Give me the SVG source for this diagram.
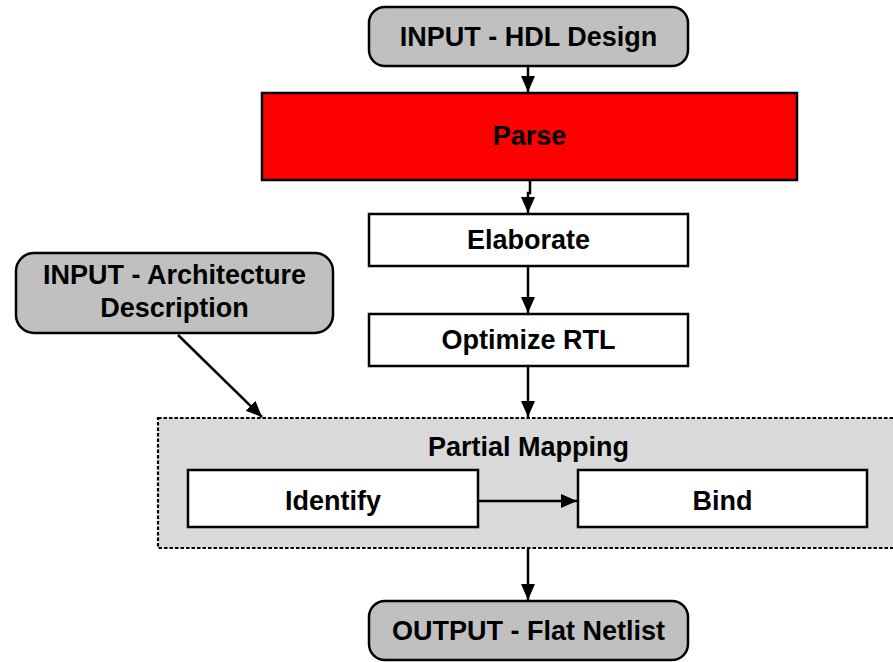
<svg xmlns="http://www.w3.org/2000/svg" width="893" height="662" viewBox="0 0 893 662">
  <style>
    .io { fill: #c0c0c0; stroke: #000; stroke-width: 2.5; }
    .step { fill: #fff; stroke: #000; stroke-width: 2.5; }
    .hot { fill: #ff0000; stroke: #000; stroke-width: 2.5; }
    .group { fill: #d9d9d9; stroke: #000; stroke-width: 2.2; stroke-dasharray: 3.5 2; }
    .lbl { font-family: "Liberation Sans", Arial, sans-serif; font-weight: bold; font-size: 27px; fill: #000; text-anchor: middle; }
    .wire { stroke: #000; stroke-width: 2.5; fill: none; marker-end: url(#head); }
  </style>
  <defs>
    <marker id="head" markerWidth="16" markerHeight="16" viewBox="0 0 16 16" refX="16" refY="8" orient="auto" markerUnits="userSpaceOnUse">
      <path d="M0,1 L16,8 L0,15 Z" fill="#000"/>
    </marker>
  </defs>

  <rect width="893" height="662" fill="#fff"/>

  <g id="hdl-design">
    <rect class="io" x="369" y="7" width="319" height="59" rx="16"/>
    <text class="lbl" x="528.5" y="46">INPUT - HDL Design</text>
  </g>

  <g id="parse">
    <rect class="hot" x="262" y="93" width="535" height="87"/>
    <text class="lbl" x="529.5" y="145">Parse</text>
  </g>

  <g id="elaborate">
    <rect class="step" x="369" y="214" width="319" height="52"/>
    <text class="lbl" x="528.5" y="248.5">Elaborate</text>
  </g>

  <g id="optimize-rtl">
    <rect class="step" x="369" y="314" width="319" height="52"/>
    <text class="lbl" x="528.5" y="348.5">Optimize RTL</text>
  </g>

  <g id="architecture">
    <rect class="io" x="16" y="253" width="317" height="80" rx="18"/>
    <text class="lbl" x="174.5" y="284">INPUT - Architecture</text>
    <text class="lbl" x="174.5" y="317">Description</text>
  </g>

  <g id="partial-mapping">
    <rect class="group" x="158" y="418" width="740" height="130"/>
    <text class="lbl" x="528.5" y="456">Partial Mapping</text>
  </g>

  <g id="identify">
    <rect class="step" x="188" y="470" width="290" height="57"/>
    <text class="lbl" x="333" y="510">Identify</text>
  </g>

  <g id="bind">
    <rect class="step" x="578" y="470" width="289" height="57"/>
    <text class="lbl" x="722.5" y="510">Bind</text>
  </g>

  <g id="flat-netlist">
    <rect class="io" x="369" y="601" width="319" height="59" rx="16"/>
    <text class="lbl" x="528.5" y="640">OUTPUT - Flat Netlist</text>
  </g>

  <g id="connectors">
    <line class="wire" x1="528" y1="67" x2="528" y2="92"/>
    <path class="wire" d="M530,181 L530,193 L528,193 L528,213"/>
    <line class="wire" x1="528" y1="267" x2="528" y2="313"/>
    <line class="wire" x1="528" y1="367" x2="528" y2="417"/>
    <line class="wire" x1="178" y1="335" x2="262" y2="417"/>
    <line class="wire" x1="479" y1="501" x2="577" y2="501"/>
    <line class="wire" x1="528" y1="549" x2="528" y2="600"/>
  </g>
</svg>
